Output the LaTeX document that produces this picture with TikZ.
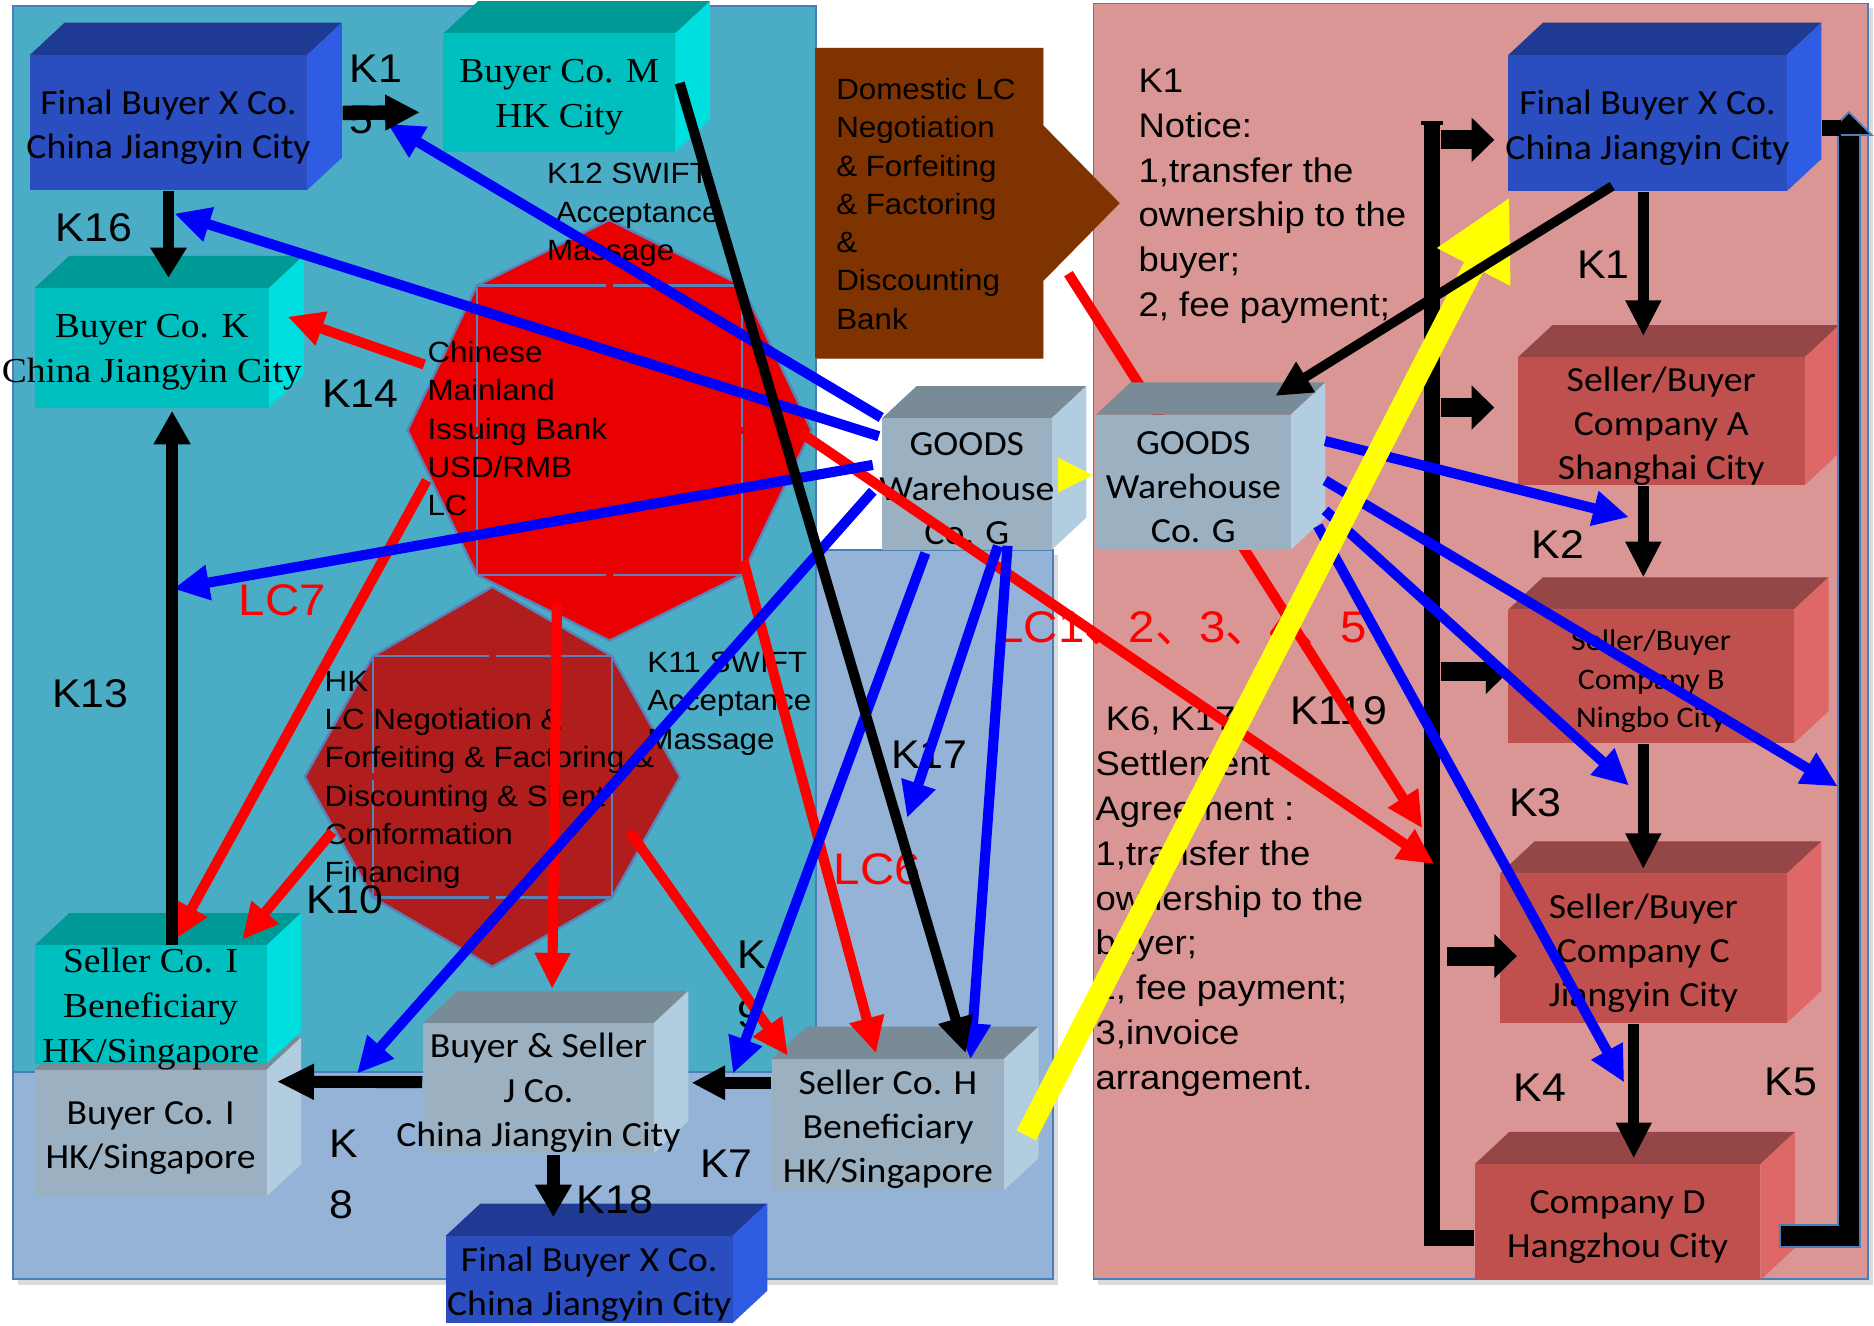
\documentclass[tikz,border=0pt]{standalone}
\usepackage{fontspec}
\setmainfont{Liberation Sans}[FakeStretch=1.07]
\newfontfamily\calib{Carlito}[FakeStretch=1.07]
\newfontfamily\tnr{Liberation Serif}[FakeStretch=1.07]
\newfontfamily\cjk{Noto Sans CJK SC}
\usetikzlibrary{arrows.meta,calc}

\definecolor{tealbg}{HTML}{4BACC6}
\definecolor{skybg}{HTML}{95B3D7}
\definecolor{pinkbg}{HTML}{D99694}
\definecolor{panelline}{HTML}{4A7EBB}
\definecolor{bankbrown}{HTML}{7F3300}
\definecolor{issuered}{HTML}{EA0000}
\definecolor{hkred}{HTML}{B01D1D}
\definecolor{octline}{HTML}{5A82BA}
\definecolor{pureblue}{HTML}{0000FF}
\definecolor{purered}{HTML}{FF0000}
\definecolor{pureyellow}{HTML}{FFFF00}
% cuboid palettes: F front, T top, S side
\definecolor{blF}{HTML}{2A4DBF}\definecolor{blT}{HTML}{1F3A93}\definecolor{blS}{HTML}{2E5DE3}
\definecolor{tlF}{HTML}{00BFBF}\definecolor{tlT}{HTML}{009A96}\definecolor{tlS}{HTML}{00DFE0}
\definecolor{gyF}{HTML}{9BB1C1}\definecolor{gyT}{HTML}{798B97}\definecolor{gyS}{HTML}{B3CDE0}
\definecolor{rdF}{HTML}{C0504D}\definecolor{rdT}{HTML}{954646}\definecolor{rdS}{HTML}{DE6868}

\newcommand\ftBox{\calib\fontsize{8.4pt}{10.53pt}\selectfont}
\newcommand\ftSer{\tnr\fontsize{8.34pt}{10.7pt}\selectfont}
\newcommand\ftSmallBox{\calib\fontsize{7.1pt}{9.25pt}\selectfont}
\newcommand\ftBank{\fontsize{6.97pt}{9.1pt}\selectfont}
\newcommand\ftNote{\fontsize{8.11pt}{10.66pt}\selectfont}
\newcommand\ftKey{\fontsize{9.53pt}{12.2pt}\selectfont}
\newcommand\ftLC{\fontsize{10.53pt}{12.6pt}\selectfont}

\newcommand\dpx{29}
\newcommand\dpy{27}
% #1 name, #2 x1, #3 y1, #4 x2, #5 y2 (front face), #6 palette, #7 font, #8 text
\newcommand\cuboid[8]{%
  \fill[#6T] (#2,#3) -- ({#2+\dpx},{#3-\dpy}) -- ({#4+\dpx},{#3-\dpy}) -- (#4,#3) -- cycle;
  \fill[#6S] (#4,#3) -- ({#4+\dpx},{#3-\dpy}) -- ({#4+\dpx},{#5-\dpy}) -- (#4,#5) -- cycle;
  \node[fill=#6F, inner sep=0pt, minimum width={(#4-#2)*0.01cm},
        minimum height={(#5-#3)*0.01cm}] (#1) at ({(#2+#4)/2},{(#3+#5)/2}) {};
  \node[font=#7, align=center, inner sep=0pt] (#1-t) at ($(#1.center)+(0,4)$) {#8};
}

\begin{document}
\begin{tikzpicture}[x=0.01cm, y=-0.01cm, line join=miter,
  every node/.style={inner sep=0pt},
  arr/.style={line width=0.085cm, -{Triangle[length=0.3cm,width=0.28cm]}},
  barr/.style={arr, draw=pureblue},
  rarr/.style={arr, draw=purered},
  karr/.style={arr, draw=black},
  branch/.style={line width=0.16cm, -{Triangle[length=0.19cm,width=0.36cm]}},
  keylab/.style={font=\ftKey, anchor=base west},
  lclab/.style={font=\ftLC, anchor=base west, text=purered},
  bank/.style={font=\ftBank, anchor=north west, align=left},
  note/.style={font=\ftNote, anchor=north west, align=left}]

\fill[white] (0,0) rectangle (1568,1109);
\useasboundingbox (0,0) rectangle (1568,1109);

% panels
\fill[black!14] (15,464) rectangle (885,1075);
\fill[black!14] (919,7) rectangle (1567,1075);
\filldraw[fill=skybg, draw=panelline, line width=0.015cm] (11,460) rectangle (881,1070);
\filldraw[fill=tealbg, draw=panelline, line width=0.015cm] (11,5) rectangle (683,897);
\filldraw[fill=pinkbg, draw=panelline, line width=0.015cm] (915,3) rectangle (1563,1070);

% domestic bank callout
\coordinate (DB) at (682,40);
\fill[black!17, shift={(5,5)}] (DB) -- ++(191,0) -- ++(0,65) -- ++(64,65) -- ++(-64,65) -- ++(0,65) -- ++(-191,0) -- cycle;
\fill[bankbrown] (DB) -- ++(191,0) -- ++(0,65) -- ++(64,65) -- ++(-64,65) -- ++(0,65) -- ++(-191,0) -- cycle;

% banks (octagons)
\coordinate (HK) at (412,650);
\coordinate (IB) at (510,360);
\filldraw[fill=hkred, draw=octline, line width=0.02cm] (412,491) -- (512,549) -- (569,650) -- (512,751) -- (412,809) -- (312,751) -- (255,650) -- (312,549) -- cycle;
\draw[octline, line width=0.02cm] (312,549) -- (409,549) (415,549) -- (512,549) -- (512,647) (512,653) -- (512,751) -- (415,751) (409,751) -- (312,751) -- (312,653) (312,647) -- (312,549);
\filldraw[fill=issuered, draw=octline, line width=0.02cm] (510,184) -- (621,239) -- (679,360) -- (621,481) -- (510,536) -- (399,481) -- (341,360) -- (399,239) -- cycle;
\draw[octline, line width=0.02cm] (399,239) -- (507,239) (513,239) -- (621,239) -- (621,357) (621,363) -- (621,481) -- (513,481) (507,481) -- (399,481) -- (399,363) (399,357) -- (399,239);

% companies
\cuboid{FBXa}{25}{46}{257}{159}{bl}{\ftBox}{Final Buyer X Co.\\China Jiangyin City}
\cuboid{BCM}{371}{28}{565}{127}{tl}{\ftSer}{Buyer Co. M\\HK City}
\cuboid{BCK}{29}{241}{225}{341}{tl}{\ftSer}{Buyer Co. K\\China Jiangyin City}
\cuboid{BCI}{29}{895}{223}{1001}{gy}{\ftBox}{Buyer Co. I\\HK/Singapore}
\cuboid{SCI}{29}{791}{223}{890}{tl}{\ftSer}{Seller Co. I\\Beneficiary\\HK/Singapore}
\cuboid{BSJ}{354}{856}{547}{965}{gy}{\ftBox}{Buyer \& Seller\\J Co.\\China Jiangyin City}
\cuboid{FBXb}{373}{1034}{613}{1107}{bl}{\ftBox}{Final Buyer X Co.\\China Jiangyin City}
\cuboid{SCH}{646}{886}{840}{996}{gy}{\ftBox}{Seller Co. H\\Beneficiary\\HK/Singapore}
\cuboid{GWa}{738}{350}{880}{460}{gy}{\ftBox}{GOODS\\Warehouse\\Co. G}
\cuboid{FBXc}{1262}{46}{1495}{160}{bl}{\ftBox}{Final Buyer X Co.\\China Jiangyin City}
\cuboid{SBA}{1270}{299}{1510}{406}{rd}{\ftBox}{Seller/Buyer\\Company A\\Shanghai City}
\cuboid{SBB}{1262}{510}{1501}{622}{rd}{\ftSmallBox}{Seller/Buyer\\Company B\\Ningbo City}
\cuboid{SBC}{1255}{731}{1495}{856}{rd}{\ftBox}{Seller/Buyer\\Company C\\Jiangyin City}
\cuboid{CD}{1234}{974}{1473}{1071}{rd}{\ftBox}{Company D\\Hangzhou City}

% text blocks
\node[bank] (IB-t) at (357,285) {Chinese\\Mainland\\Issuing Bank\\USD/RMB\\LC};
\node[bank] (K12-t) at (457,136) {K12 SWIFT\\\hspace*{0.073cm}Acceptance\\Massage};
\node[bank] (HK-t) at (271,561) {HK\\LC Negotiation \&\\Forfeiting \& Factoring \&\\Discounting \& Silent\\Conformation\\Financing};
\node[bank] (K11-t) at (541,545) {K11 SWIFT\\Acceptance\\Massage};
\node[bank] (DB-t) at (699,65) {Domestic LC\\Negotiation\\\& Forfeiting\\\& Factoring\\\&\\Discounting\\Bank};
\node[note] (K1-t) at (952,57) {K1\\Notice:\\1,transfer the\\ownership to the\\buyer;\\2, fee payment;};
\node[note] (K6-t) at (916,591) {\hspace*{0.085cm}K6, K17\\Settlement\\Agreement :\\1,transfer the\\ownership to the\\buyer;\\2, fee payment;\\3,invoice\\arrangement.};

% step labels
\node[font=\ftKey, anchor=north west, align=left] (k15) at (292,45) {K1\\5};
\node[font=\fontsize{9.53pt}{13.94pt}\selectfont, anchor=north west, align=left] (k9) at (616,787) {K\\9};
\node[font=\fontsize{9.53pt}{14.5pt}\selectfont, anchor=north west, align=left] (k8) at (275,945) {K\\8};
\node[keylab] (k16) at (46,202) {K16};
\node[keylab] (k14) at (269,341) {K14};
\node[keylab] (k13) at (43,592) {K13};
\node[keylab] (k10) at (256,764) {K10};
\node[keylab] (k17) at (745,643) {K17};
\node[keylab] (k7) at (585,985) {K7};
\node[keylab] (k18) at (482,1015) {K18};
\node[keylab] (k1r) at (1319,233) {K1};
\node[keylab] (k2) at (1281,467) {K2};
\node[keylab] (k3) at (1262,683) {K3};
\node[keylab] (k4) at (1266,922) {K4};
\node[keylab] (k5) at (1476,917) {K5};
\node[keylab] (k119) at (1079,606) {K119};
\node[lclab] (lc7) at (199,515) {LC7};
\node[lclab] (lc6) at (697,740) {LC6};
\node[lclab] (lc15) at (834,538) {LC1{\cjk 、}2{\cjk 、}3{\cjk 、}4{\cjk 、}5};

% brackets on the right
\coordinate (brT) at (1198,103);
\coordinate (brB) at (1198,1036);
\coordinate (rbB) at (1547,1034);
\coordinate (rbT) at (1547,113);

% red line running behind the second warehouse
\draw[rarr] ($(DB)+(212,189)$) -- ($(brB)+(-8,-343)$);
\cuboid{GWb}{917}{347}{1080}{460}{gy}{\ftBox}{GOODS\\Warehouse\\Co. G}

\draw[line width=0.13cm] (brT) -- (brB) -- ($(CD.west)+(0,13.5)$);
\draw[line width=0.03cm] ($(brT)+(-9,0)$) -- ($(brT)+(9,0)$);
\begin{scope}[black!35, shift={(2,3)}]
  \draw[branch] ($(brT)+(8,14)$) -- ($(FBXc.west)+(-11,14)$);
  \draw[branch] ($(brT)+(8,238)$) -- ($(SBA.west)+(-19,-11.5)$);
  \draw[branch] ($(brT)+(8,459)$) -- ($(SBB.west)+(1,-4)$);
  \draw[branch] ($(brT)+(13,697)$) -- ($(SBC.west)+(15,6.5)$);
\end{scope}
\draw[branch] ($(brT)+(8,14)$) -- ($(FBXc.west)+(-11,14)$);
\draw[branch] ($(brT)+(8,238)$) -- ($(SBA.west)+(-19,-11.5)$);
\draw[branch] ($(brT)+(8,459)$) -- ($(SBB.west)+(1,-4)$);
\draw[branch] ($(brT)+(13,697)$) -- ($(SBC.west)+(15,6.5)$);
\draw[panelline, line width=0.2cm] ($(CD.east)+(15,11.5)$) -- (rbB) -- (rbT);
\draw[black, line width=0.17cm] ($(CD.east)+(16.5,11.5)$) -- (rbB) -- ($(rbT)+(0,-1)$);
\filldraw[fill=black, draw=panelline, line width=0.015cm] ($(rbT)+(-19,0)$) -- ($(rbT)+(0,-19)$) -- ($(rbT)+(19,0)$) -- cycle;
\fill ($(FBXc.east)+(29,-3)$) rectangle ($(FBXc.east)+(45,11)$);

% red flows
\draw[rarr] ($(IB)+(-155,-55)$) -- ($(BCK.east)+(15,-26)$);
\draw[rarr] ($(IB)+(-153,42)$) -- ($(SCI.north)+(20,-4)$);
\draw[rarr] ($(HK)+(-134,46)$) -- ($(SCI.north east)+(-21,-4)$);
\draw[rarr] ($(IB)+(-44,145)$) -- ($(BSJ.north)+(11.5,-28)$);
\draw[rarr] ($(IB)+(112,109)$) -- ($(SCH.north)+(-10,-4)$);
\draw[rarr] ($(HK)+(115,46)$) -- ($(SCH.north west)+(14,-2)$);
\draw[rarr] ($(IB)+(160,2)$) -- ($(brB)+(2,-313)$);

% blue flows from the warehouses
\draw[barr] ($(GWa.west)+(-2,-40)$) -- ($(FBXa.south)+(5,19)$);
\draw[barr] (GWa.north west) -- ($(BCM.south west)+(-46,-24)$);
\draw[barr] ($(GWa.west)+(-7,-16)$) -- ($(BCK.south)+(18,151)$);
\draw[barr] ($(GWa.west)+(-7,6)$) -- ($(BCI.north east)+(75,4)$);
\draw[barr] ($(GWa.south west)+(37,2)$) -- ($(SCH.north west)+(-32,13)$);
\draw[barr] ($(GWa.south)+(26,-4)$) -- ($(SCH.north)+(16,-201)$);
\draw[barr] ($(GWa.south)+(34,-4)$) -- ($(SCH.north)+(69,1)$);
\draw[barr] ($(GWb.east)+(28,-34.5)$) -- ($(SBA.south)+(-27,26)$);
\draw[barr] ($(GWb.east)+(28,-1.5)$) -- ($(SBB.east)+(36,92)$);
\draw[barr] ($(GWb.east)+(28,23.5)$) -- ($(SBC.north)+(-12,-73)$);
\draw[barr] ($(GWb.east)+(22,36.5)$) -- ($(SBC.south)+(-16,49)$);

% black flows
\draw[karr, line width=0.09cm, -{Triangle[length=0.25cm,width=0.29cm]}] (FBXa.south) -- ($(BCK.north)+(14,-8)$);
\draw[karr, line width=0.12cm, -{Triangle[length=0.29cm,width=0.28cm]}] ($(FBXa.east)+(29,-8)$) -- ($(BCM.west)+(-19,16.5)$);
\draw[karr, line width=0.1cm, -{Triangle[length=0.28cm,width=0.29cm]}] ($(SCI.north)+(18,0)$) -- ($(BCK.south)+(17,2)$);
\draw[karr] ($(BCM.east)+(3,-8)$) -- ($(SCH.north)+(65,-4)$);
\draw[karr, line width=0.1cm, -{Triangle[length=0.31cm,width=0.28cm]}] ($(BSJ.west)+(0,-5)$) -- ($(BCI.east)+(8,-43)$);
\draw[karr, line width=0.1cm, -{Triangle[length=0.28cm,width=0.27cm]}] ($(SCH.west)+(0,-35)$) -- ($(BSJ.east)+(31,-4.5)$);
\draw[karr, line width=0.11cm, -{Triangle[length=0.27cm,width=0.29cm]}] ($(BSJ.south)+(12.5,1)$) -- ($(FBXb.north)+(-30,-15)$);
\draw[karr, line width=0.09cm] ($(FBXc.south)+(-3.5,0)$) -- ($(SBA.north)+(-15,-17)$);
\draw[karr, line width=0.09cm] ($(SBA.south)+(-15,0)$) -- ($(SBB.north)+(-6.5,-26)$);
\draw[karr, line width=0.09cm] ($(SBB.south)+(-6.5,0)$) -- ($(SBC.north)+(0,-3)$);
\draw[karr, line width=0.09cm] ($(SBC.south)+(-8,0)$) -- ($(CD.north)+(13.5,-4)$);

% goods transfer and title transfer
\draw[pureyellow, line width=0.005cm, -{Triangle[length=0.29cm,width=0.29cm]}] ($(GWa.east)+(4,-7.5)$) -- ($(GWb.west)+(-2,-6)$);
\draw[pureyellow, line width=0.18cm, -{Triangle[length=0.66cm,width=0.64cm]}] ($(SCH.east)+(18,9)$) -- ($(FBXc.south west)+(2,4)$);
\draw[karr, line width=0.08cm] ($(FBXc.south)+(-29.5,-5)$) -- ($(GWb.north)+(68.5,-15)$);

\end{tikzpicture}
\end{document}
